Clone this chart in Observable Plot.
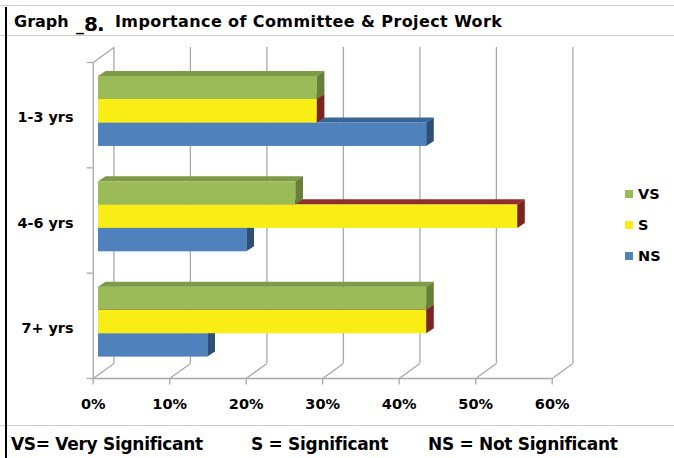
<!DOCTYPE html>
<html>
<head>
<meta charset="utf-8">
<script src="https://cdn.jsdelivr.net/npm/d3@7"></script>
<script src="https://cdn.jsdelivr.net/npm/@observablehq/plot@0.6"></script>
<style>
  html, body { margin: 0; padding: 0; background: #fff; }
  #wrap { position: relative; width: 674px; height: 458px; overflow: hidden; background: #fff;
          font-family: "DejaVu Sans", Verdana, sans-serif; font-weight: bold; color: #000; }
  .hl { position: absolute; left: 0; width: 674px; height: 1.5px; background: #CDCDCD; }
  .t { position: absolute; white-space: nowrap; line-height: 1; }
  #plot { position: absolute; left: 0; top: 0; }
  .leg { position: absolute; display: flex; align-items: center; font-size: 14.5px; }
  .leg i { display: inline-block; width: 8px; height: 8px; margin-right: 5px; }
</style>
</head>
<body>
<div id="wrap">
  <div id="plot"></div>
  <div class="hl" style="top:4.5px"></div>
  <div class="hl" style="top:34.5px"></div>
  <div class="hl" style="top:424.5px"></div>
  <div style="position:absolute;left:4.5px;top:7px;width:2.5px;height:451px;background:#000"></div>
  <div id="title"></div>
  <div id="legend"></div>
  <div id="foot"></div>
</div>
<script>
// ---- data ----
const categories = ["1-3 yrs", "4-6 yrs", "7+ yrs"];
const seriesNames = ["VS", "S", "NS"];
const vsValues = [28.6, 25.8, 42.9];
const sValues  = [28.6, 54.8, 42.9];
const nsValues = [42.9, 19.4, 14.3];
const xTicks = [0, 10, 20, 30, 40, 50, 60];
const titleParts = ["Graph", "_", "8.", "Importance of Committee & Project Work"];
const footnotes = ["VS= Very Significant", "S = Significant", "NS = Not Significant"];

// ---- styles ----
const colors = {
  VS: {front: "#9BBB59", top: "#7D9A46", side: "#687F38"},
  S:  {front: "#F8EE16", top: "#8F2F2B", side: "#7A2522"},
  NS: {front: "#4F81BD", top: "#3B6596", side: "#2D4F78"}
};
const slots = {VS: [0.133, 0.351], S: [0.351, 0.575], NS: [0.575, 0.797]};

const W = 674, H = 458;
const mL = 92.7, mR = 674 - 551.7, mT = 62, mB = 458 - 378;
const kx = 60 / (W - mL - mR);   // data units per px (x)
const ky = 3 / (H - mT - mB);    // data units per px (y)
const wallDx = 20.7, wallDy = 15; // back-wall depth, px
const barDx = 5.3;                // bar front-face offset, px
const bDx = 7.6, bDy = 5;         // bar depth, px

const valuesBySeries = {VS: vsValues, S: sValues, NS: nsValues};
const rows = [];
for (const s of seriesNames) {
  categories.forEach((c, i) => {
    rows.push({cat: c, series: s, value: valuesBySeries[s][i],
      y1: i + slots[s][0], y2: i + slots[s][1], id: s + i});
  });
}
const topPts = [], sidePts = [];
for (const r of rows) {
  topPts.push({id: r.id, series: r.series, x1: 0, x2: r.value, y: r.y1});
  topPts.push({id: r.id, series: r.series, x1: bDx * kx, x2: r.value + bDx * kx, y: r.y1 - bDy * ky});
  sidePts.push({id: r.id, series: r.series, x: r.value, y1: r.y1, y2: r.y2});
  sidePts.push({id: r.id, series: r.series, x: r.value + bDx * kx, y1: r.y1 - bDy * ky, y2: r.y2 - bDy * ky});
}

const grid = "#A8A8A8";
const marks = [
  Plot.ruleX(xTicks, {x: d => d, y1: 0, y2: 3, dx: wallDx, dy: -wallDy, stroke: grid, strokeWidth: 1.3}),
  Plot.link(xTicks, {x1: d => d, y1: 3, x2: d => d + wallDx * kx, y2: 3 - wallDy * ky, stroke: grid, strokeWidth: 1.3}),
  Plot.link([0], {x1: 0, y1: 0, x2: wallDx * kx, y2: -wallDy * ky, stroke: grid, strokeWidth: 1.3}),
  Plot.ruleY([3], {x1: 0, x2: 60, stroke: grid, strokeWidth: 1.3}),
  Plot.ruleX([0], {y1: 0, y2: 3, stroke: grid, strokeWidth: 1.3}),
  Plot.ruleY([0, 1, 2, 3], {x1: 0, x2: -6 * kx, stroke: grid, strokeWidth: 1.3}),
  Plot.link(xTicks, {x1: d => d, x2: d => d, y1: 3, y2: 3 + 6 * ky, stroke: grid, strokeWidth: 1.3}),
];
for (const s of ["NS", "S", "VS"]) {
  marks.push(
    Plot.rect(rows.filter(r => r.series === s), {x1: 0, x2: "value", y1: "y1", y2: "y2", dx: barDx, fill: colors[s].front}),
    Plot.areaX(topPts.filter(r => r.series === s), {x1: "x1", x2: "x2", y: "y", z: "id", dx: barDx, fill: colors[s].top}),
    Plot.areaY(sidePts.filter(r => r.series === s), {x: "x", y1: "y1", y2: "y2", z: "id", dx: barDx, fill: colors[s].side})
  );
}
marks.push(
  Plot.text(xTicks, {x: d => d, y: 3, text: d => d + "%", dy: 25.4, fontSize: 14.5, fill: "#000"}),
  Plot.text(categories, {x: 0, y: (d, i) => i + 0.5, text: d => d, textAnchor: "end", dx: -19.7, dy: 2.6, fontSize: 14.4, fill: "#000"})
);

const chart = Plot.plot({
  width: W, height: H,
  marginLeft: mL, marginRight: mR, marginTop: mT, marginBottom: mB,
  x: {domain: [0, 60], axis: null},
  y: {domain: [0, 3], reverse: true, axis: null},
  style: {fontFamily: "DejaVu Sans, Verdana, sans-serif", fontWeight: "bold", background: "transparent", overflow: "visible"},
  marks
});
document.getElementById("plot").appendChild(chart);

// ---- title ----
const title = document.getElementById("title");
function tdiv(left, top, size, ls) {
  const el = document.createElement("div");
  el.className = "t";
  el.style.left = left + "px";
  el.style.top = top + "px";
  el.style.fontSize = size + "px";
  if (ls) el.style.letterSpacing = ls + "px";
  title.appendChild(el);
  return el;
}
tdiv(14, 14.2, 16, 0).textContent = titleParts[0];
const num = tdiv(76, 14.2, 16, 0);
const us = document.createElement("span");
us.textContent = titleParts[1];
const n8 = document.createElement("span");
n8.textContent = titleParts[2];
n8.style.fontSize = "20px";
n8.style.letterSpacing = "-1px";
num.appendChild(us);
num.appendChild(n8);
tdiv(115, 14.2, 16, 0.4).textContent = titleParts[3];

// ---- legend ----
const legend = document.getElementById("legend");
const legY = [194, 225, 256];
seriesNames.forEach((s, i) => {
  const el = document.createElement("div");
  el.className = "leg";
  el.style.left = "625px";
  el.style.top = (legY[i] - 9) + "px";
  el.style.height = "18px";
  el.innerHTML = `<i style="background:${colors[s].front}"></i><span></span>`;
  el.querySelector("span").textContent = s;
  legend.appendChild(el);
});

// ---- footnote ----
const foot = document.getElementById("foot");
const fX = [11, 251, 428];
footnotes.forEach((f, i) => {
  const el = document.createElement("div");
  el.className = "t";
  el.textContent = f;
  el.style.left = fX[i] + "px";
  el.style.top = "436px";
  el.style.fontSize = "17px";
  el.style.letterSpacing = "-0.3px";
  foot.appendChild(el);
});
</script>
</body>
</html>
